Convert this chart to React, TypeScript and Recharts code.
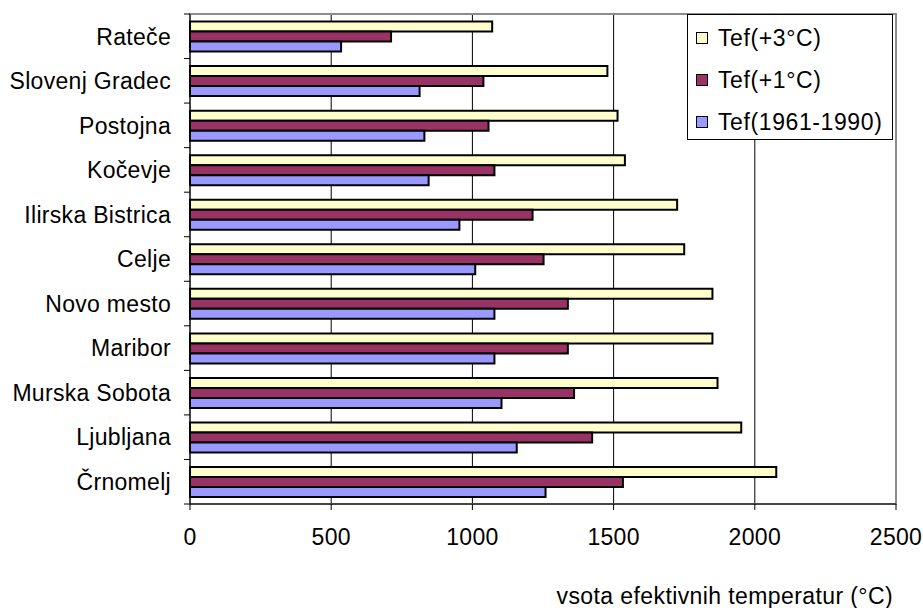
import { BarChart, Bar, XAxis, YAxis, CartesianGrid, Legend, ReferenceArea } from 'recharts';

// Weather stations, top to bottom
const cities = [
  'Rateče',
  'Slovenj Gradec',
  'Postojna',
  'Kočevje',
  'Ilirska Bistrica',
  'Celje',
  'Novo mesto',
  'Maribor',
  'Murska Sobota',
  'Ljubljana',
  'Črnomelj',
];

// Sum of effective temperatures (°C) per scenario
const tefPlus3 = [1070, 1478, 1514, 1540, 1725, 1750, 1850, 1850, 1868, 1952, 2076];
const tefPlus1 = [712, 1039, 1057, 1078, 1213, 1252, 1338, 1338, 1360, 1424, 1533];
const tefBase = [535, 813, 830, 845, 954, 1010, 1078, 1078, 1103, 1157, 1259];

const xTicks = [0, 500, 1000, 1500, 2000, 2500];

const series = [
  { key: 'plus3', name: 'Tef(+3°C)', color: '#FFFFCC' },
  { key: 'plus1', name: 'Tef(+1°C)', color: '#993366' },
  { key: 'base', name: 'Tef(1961-1990)', color: '#9999FF' },
];

const data = cities.map((city, i) => ({
  city,
  plus3: tefPlus3[i],
  plus1: tefPlus1[i],
  base: tefBase[i],
}));

const FONT = '"Liberation Sans", Arial, sans-serif';
const WIDTH = 923;
const HEIGHT = 608;
const MARGIN = { top: 14, right: 27, bottom: 0, left: 0 };
const Y_AXIS_W = 190;
const X_AXIS_H = 104;
const plotTop = MARGIN.top;
const plotBottom = HEIGHT - X_AXIS_H;
const band = (plotBottom - plotTop) / cities.length;

// City label plus Excel-style ticks on the category boundaries
function CityTick(props: any) {
  const { y, payload, index } = props;
  const top = y - band / 2;
  const bottom = y + band / 2;
  return (
    <g>
      <line x1={Y_AXIS_W - 6} x2={Y_AXIS_W} y1={top} y2={top} stroke="#000" />
      {index === cities.length - 1 && (
        <line x1={Y_AXIS_W - 6} x2={Y_AXIS_W} y1={bottom} y2={bottom} stroke="#000" />
      )}
      <text
        x={171}
        y={y}
        dy="0.36em"
        textAnchor="end"
        fontFamily={FONT}
        fontSize={23}
        letterSpacing={0.3}
        fill="#000"
      >
        {payload.value}
      </text>
    </g>
  );
}

function ValueTick(props: any) {
  const { x, payload } = props;
  return (
    <text x={x} y={545} textAnchor="middle" fontFamily={FONT} fontSize={23} letterSpacing={0.3} fill="#000">
      {payload.value}
    </text>
  );
}

function AxisTitle() {
  return (
    <text x={893} y={604} textAnchor="end" fontFamily={FONT} fontSize={23} letterSpacing={0.4} fill="#000">
      vsota efektivnih temperatur (°C)
    </text>
  );
}

function LegendBox() {
  return (
    <div
      style={{
        position: 'relative',
        width: 206,
        height: 126,
        boxSizing: 'border-box',
        border: '1px solid #000',
        background: '#fff',
        fontFamily: FONT,
        fontSize: 23,
        letterSpacing: 0.6,
        color: '#000',
      }}
    >
      {series.map((s, i) => (
        <div
          key={s.key}
          style={{
            position: 'absolute',
            left: 8,
            top: 10 + i * 42,
            height: 26,
            display: 'flex',
            alignItems: 'center',
            whiteSpace: 'nowrap',
          }}
        >
          <span
            style={{
              display: 'inline-block',
              width: 12,
              height: 12,
              boxSizing: 'border-box',
              border: '1.5px solid #000',
              background: s.color,
              marginRight: 10,
            }}
          />
          <span>{s.name}</span>
        </div>
      ))}
    </div>
  );
}

export default function App() {
  return (
    <div style={{ position: 'absolute', left: 0, top: 0, background: '#fff' }}>
      <BarChart
        width={WIDTH}
        height={HEIGHT}
        data={data}
        layout="vertical"
        margin={MARGIN}
        barCategoryGap="17%"
        barGap={0}
      >
        <CartesianGrid horizontal={false} stroke="#000" strokeWidth={1} />
        <ReferenceArea x1={0} x2={2500} fill="none" stroke="#8c8c8c" strokeWidth={2} ifOverflow="visible" />
        <XAxis
          type="number"
          domain={[0, 2500]}
          ticks={xTicks}
          height={X_AXIS_H}
          tickSize={6}
          tickLine={{ stroke: '#000' }}
          axisLine={{ stroke: '#000' }}
          tick={<ValueTick />}
          label={<AxisTitle />}
        />
        <YAxis
          type="category"
          dataKey="city"
          width={Y_AXIS_W}
          tickLine={false}
          axisLine={{ stroke: '#000' }}
          tick={<CityTick />}
          interval={0}
        />
        <Legend
          layout="horizontal"
          align="center"
          verticalAlign="middle"
          content={<LegendBox />}
          wrapperStyle={{ left: 687, top: 14, width: 206, height: 126 }}
        />
        {series.map((s) => (
          <Bar
            key={s.key}
            dataKey={s.key}
            name={s.name}
            fill={s.color}
            stroke="#000"
            strokeWidth={2}
            isAnimationActive={false}
          />
        ))}
      </BarChart>
    </div>
  );
}
